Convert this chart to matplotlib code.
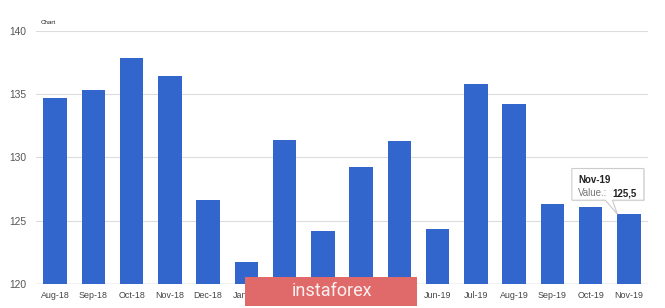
import matplotlib
matplotlib.use("Agg")
import matplotlib.pyplot as plt
from matplotlib.patches import Rectangle, Polygon
from matplotlib.transforms import ScaledTranslation

categories = ["Aug-18", "Sep-18", "Oct-18", "Nov-18", "Dec-18", "Jan-19", "Feb-19", "Mar-19",
              "Apr-19", "May-19", "Jun-19", "Jul-19", "Aug-19", "Sep-19", "Oct-19", "Nov-19"]
values = [134.7, 135.3, 137.9, 136.4, 126.6, 121.7, 131.4, 124.2,
          129.2, 131.3, 124.3, 135.8, 134.2, 126.3, 126.1, 125.5]
y_ticks = [120, 125, 130, 135, 140]
chart_title = "Chart"
tooltip_index = 15
watermark = "instaforex"

plt.rcParams['font.family'] = ['Liberation Sans', 'DejaVu Sans']

W, H = 665, 308
fig = plt.figure(figsize=(W / 100, H / 100), dpi=100)
fig.patch.set_facecolor("white")
ax = fig.add_axes([36 / W, 1 - 283.7 / H, 612 / W, (283.7 - 31) / H])

x = list(range(len(categories)))
ax.bar(x, values, width=0.62, color="#3366cc", zorder=3)
ax.set_xlim(-0.5, len(categories) - 0.5)
ax.set_ylim(y_ticks[0], y_ticks[-1])
ax.set_yticks(y_ticks)
ax.set_yticklabels([str(t) for t in y_ticks])
ax.set_xticks(x)
ax.set_xticklabels(categories)
for s in ax.spines.values():
    s.set_visible(False)
ax.grid(axis="y", color="#dcdcdc", linewidth=0.8, zorder=0)
ax.axhline(y_ticks[0], color="#c8c8c8", linewidth=1.0, zorder=2)
ax.tick_params(axis="y", length=0, pad=7, labelsize=7.4, labelcolor="#555555")
ax.tick_params(axis="x", length=0, pad=5, labelsize=6.4, labelcolor="#444444")

fig.text(41 / W, 1 - 22 / H, chart_title, fontsize=4.5, color="#222222", va="center", ha="left")

# tooltip anchored to the bar top
i = tooltip_index
tr = fig.dpi_scale_trans + ScaledTranslation(i, values[i], ax.transData)
box = [(-0.57, 0.14), (-0.235, 0.14), (-0.115, 0.0), (-0.165, 0.14), (0.15, 0.14),
       (0.15, 0.457), (-0.57, 0.457)]
shadow = Polygon([(px + 0.01, py - 0.01) for px, py in box], closed=True, transform=tr,
                 facecolor="#000000", alpha=0.08, edgecolor="none", zorder=9, clip_on=False)
ax.add_artist(shadow)
ax.add_artist(Polygon(box, closed=True, transform=tr, facecolor="white",
                      edgecolor="#cccccc", linewidth=0.8, zorder=10, clip_on=False))
ax.text(-0.505, 0.31, categories[i], transform=tr, fontsize=7, fontweight="bold",
        color="#222222", va="baseline", ha="left", zorder=11, clip_on=False)
ax.text(-0.505, 0.18, "Value.:", transform=tr, fontsize=7, color="#777777",
        va="baseline", ha="left", zorder=11, clip_on=False)
ax.text(-0.165, 0.18, f"{values[i]:.1f}".replace(".", ","), transform=tr, fontsize=7,
        fontweight="bold", color="#222222", va="baseline", ha="left", zorder=11, clip_on=False)

# watermark
fig.patches.append(Rectangle((245 / W, 2 / H), 172 / W, 29 / H, transform=fig.transFigure,
                             facecolor="#e06a6a", edgecolor="none", zorder=20))
fig.text(332 / W, 1 - 291.5 / H, watermark, fontsize=13, color="#fdf0f0",
         family=["Roboto", "DejaVu Sans"], ha="center", va="center", zorder=21)

fig.savefig("out.png", dpi=100, facecolor="white")
